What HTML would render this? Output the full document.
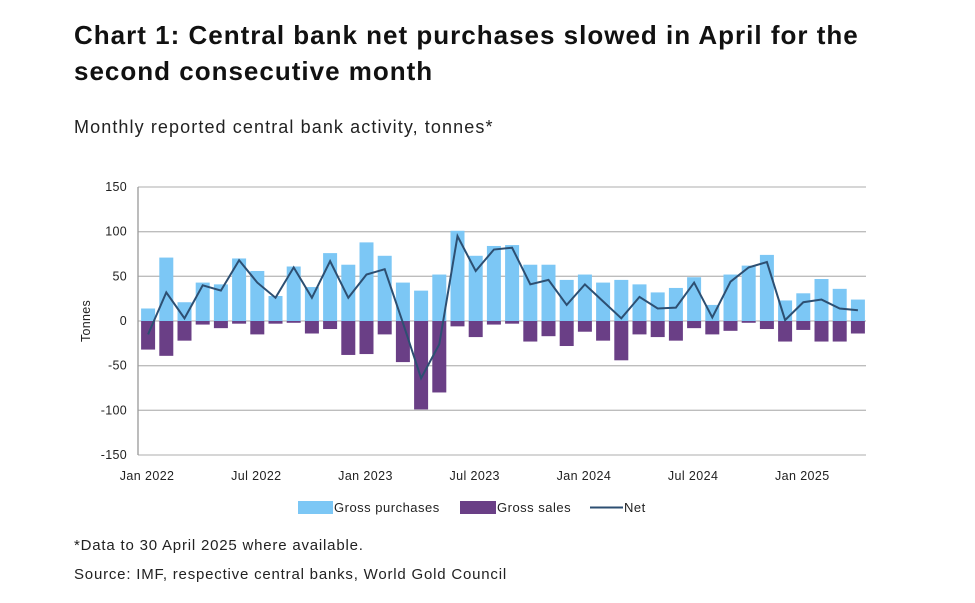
<!DOCTYPE html>
<html><head><meta charset="utf-8"><style>
body{margin:0;background:#fff;width:975px;height:603px;overflow:hidden;font-family:"Liberation Sans",sans-serif;}
.t{position:absolute;left:74px;top:17px;font-size:26px;letter-spacing:1px;font-weight:bold;color:#111;line-height:36px;white-space:nowrap;}
.s{position:absolute;left:74px;top:117px;font-size:18px;letter-spacing:1.1px;color:#222;white-space:nowrap;}
.f{position:absolute;left:74px;font-size:15px;letter-spacing:0.8px;color:#222;white-space:nowrap;}
</style></head><body>
<div class="t">Chart 1: Central bank net purchases slowed in April for the<br>second consecutive month</div>
<div class="s">Monthly reported central bank activity, tonnes*</div>
<svg id="c" width="975" height="603" style="position:absolute;left:0;top:0"></svg>
<div class="f" style="top:537px">*Data to 30 April 2025 where available.</div>
<div class="f" style="top:566px">Source: IMF, respective central banks, World Gold Council</div>
<script>
const months=["Jan 2022","Feb 2022","Mar 2022","Apr 2022","May 2022","Jun 2022","Jul 2022","Aug 2022","Sep 2022","Oct 2022","Nov 2022","Dec 2022","Jan 2023","Feb 2023","Mar 2023","Apr 2023","May 2023","Jun 2023","Jul 2023","Aug 2023","Sep 2023","Oct 2023","Nov 2023","Dec 2023","Jan 2024","Feb 2024","Mar 2024","Apr 2024","May 2024","Jun 2024","Jul 2024","Aug 2024","Sep 2024","Oct 2024","Nov 2024","Dec 2024","Jan 2025","Feb 2025","Mar 2025","Apr 2025"];
const purchases=[14,71,21,43,41,70,56,28,61,38,76,63,88,73,43,34,52,101,73,84,85,63,63,46,52,43,46,41,32,37,49,18,52,62,74,23,31,47,36,24];
const sales=[-32,-39,-22,-4,-8,-3,-15,-3,-2,-14,-9,-38,-37,-15,-46,-99,-80,-6,-18,-4,-3,-23,-17,-28,-12,-22,-44,-15,-18,-22,-8,-15,-11,-2,-9,-23,-10,-23,-23,-14];
const net=[-15,32,3,40,34,68,43,26,60,26,67,26,52,58,-2,-64,-26,95,56,80,82,41,46,18,41,22,3,27,14,15,43,4,44,60,66,1,21,24,14,12];
const yTicks=[150,100,50,0,-50,-100,-150];
const xTickIdx=[0,6,12,18,24,30,36];
const ns="http://www.w3.org/2000/svg";
const svg=document.getElementById('c');
const X0=138,X1=866,Y0=187,Y1=455,n=months.length,step=(X1-X0)/n,bw=14;
const y=v=>Y0+(150-v)*(Y1-Y0)/300;
const xc=i=>X0+step*(i+0.5)+1;
function mk(t,a,p){const e=document.createElementNS(ns,t);for(const k in a)e.setAttribute(k,a[k]);(p||svg).appendChild(e);return e;}
yTicks.forEach(v=>{
 const l=mk('line',{x1:X0,x2:X1,y1:y(v),y2:y(v),stroke:'#bdbdbd','stroke-width':1.3});
 
 
 const t=mk('text',{x:127,y:y(v)+4,'text-anchor':'end','font-size':12.5,'letter-spacing':0.3,fill:'#222'});t.textContent=v;
 
 
});
const ax=mk('line',{x1:X0,x2:X0,y1:Y0,y2:Y1,stroke:'#999','stroke-width':1.3});


const yt=mk('text',{x:0,y:0,transform:'translate(90,321) rotate(-90)','text-anchor':'middle','font-size':12.5,'letter-spacing':0.3,fill:'#222'});yt.textContent='Tonnes';


purchases.forEach((v,i)=>{
 const r=mk('rect',{x:xc(i)-bw/2,y:y(v),width:bw,height:y(0)-y(v),fill:'#7cc7f5'});
 
 
});
sales.forEach((v,i)=>{
 const r=mk('rect',{x:xc(i)-bw/2,y:y(0),width:bw,height:y(v)-y(0),fill:'#6a3f86'});
 
 
});
const pl=mk('polyline',{points:net.map((v,i)=>xc(i)+','+y(v)).join(' '),fill:'none',stroke:'#2d4f72','stroke-width':2});


xTickIdx.forEach(i=>{
 const t=mk('text',{x:xc(i)-1,y:480,'text-anchor':'middle','font-size':12.5,'letter-spacing':0.4,fill:'#222'});t.textContent=months[i];
 
 
});
const g=mk('g',{});


mk('rect',{x:298,y:501,width:35,height:13,fill:'#7cc7f5'},g);
let t1=mk('text',{x:334,y:512,'font-size':13,'letter-spacing':0.5,fill:'#222'},g);t1.textContent='Gross purchases';
mk('rect',{x:460,y:501,width:36,height:13,fill:'#6a3f86'},g);
let t2=mk('text',{x:497,y:512,'font-size':13,'letter-spacing':0.5,fill:'#222'},g);t2.textContent='Gross sales';
mk('line',{x1:590,x2:623,y1:507.5,y2:507.5,stroke:'#2d4f72','stroke-width':2},g);
let t3=mk('text',{x:624,y:512,'font-size':13,'letter-spacing':0.5,fill:'#222'},g);t3.textContent='Net';
</script>
</body></html>
